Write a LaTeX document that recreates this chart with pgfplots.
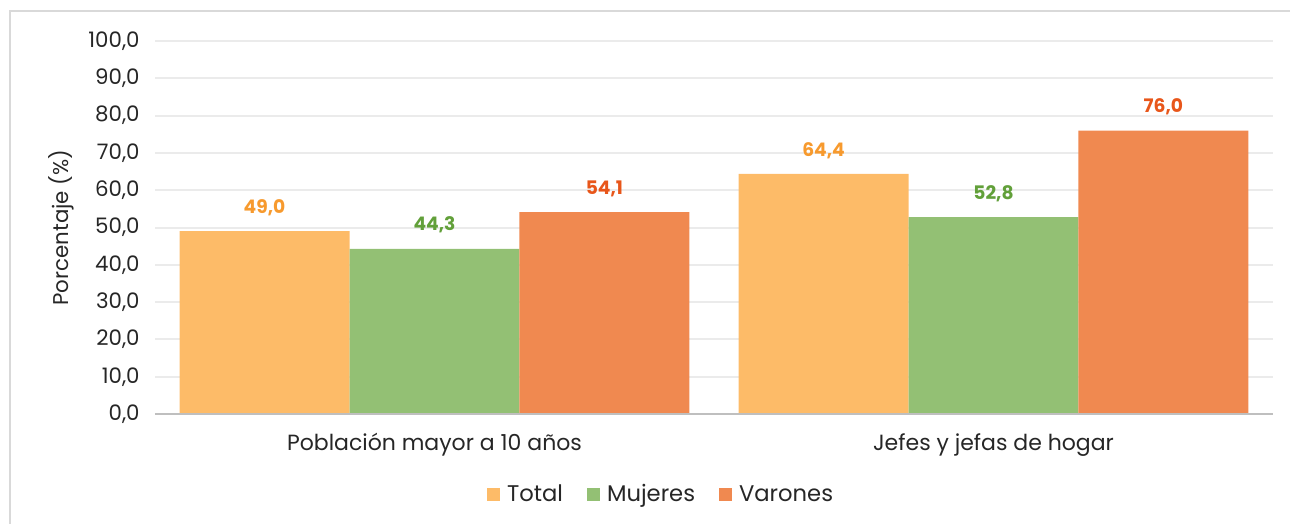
\documentclass[border=0pt]{standalone}
\usepackage{fontspec}
\setmainfont{Poppins}
\usepackage{pgfplots}
\pgfplotsset{compat=1.18}
\definecolor{cTotal}{RGB}{253,187,104}
\definecolor{cMuj}{RGB}{147,192,116}
\definecolor{cVar}{RGB}{240,137,80}
\definecolor{lTotal}{RGB}{247,154,46}
\definecolor{lMuj}{RGB}{98,160,58}
\definecolor{lVar}{RGB}{232,86,26}
\definecolor{gridc}{RGB}{235,235,235}
\definecolor{axc}{RGB}{191,191,191}
\definecolor{framec}{RGB}{217,217,217}
\begin{document}
\begin{tikzpicture}
\useasboundingbox (0pt,0pt) rectangle (967.5pt,-393pt);
\draw[framec,line width=0.9pt] (7.5pt,-393pt) -- (7.5pt,-8.25pt) -- (967.5pt,-8.25pt);
\begin{axis}[
  at={(116.25pt,-30.75pt)}, anchor=north west,
  scale only axis,
  width=838.5pt, height=279.75pt,
  xmin=-0.5, xmax=1.5, ymin=0, ymax=100,
  ybar=0pt, bar width=0.304,
  xtick={0,1}, xticklabels={Población mayor a 10 años, Jefes y jefas de hogar},
  ytick={0,10,...,100},
  yticklabel={\pgfmathprintnumber[fixed,fixed zerofill,precision=1,use comma]{\tick}},
  /pgf/number format/assume math mode=true,
  tick label style={font=\fontsize{16}{19}\selectfont, text=black!85},
  yticklabel style={xshift=-8pt},
  xticklabel style={yshift=-11pt, font=\fontsize{16.5}{19}\selectfont},
  major tick length=0pt,
  axis line style={draw=none},
  axis x line*=bottom, axis y line*=left,
  ymajorgrids, grid style={gridc, line width=1.5pt},
  ylabel={Porcentaje (\%)},
  ylabel style={font=\fontsize{16}{19}\selectfont, text=black!85, yshift=4pt},
  legend style={at={(0.453,-0.215)}, anchor=center, draw=none, legend columns=3,
    font=\fontsize{17}{20}\selectfont, text=black!85,
    /tikz/every odd column/.append style={column sep=3pt},
    /tikz/every even column/.append style={column sep=16pt}},
  legend image code/.code={\fill[#1] (0pt,-5pt) rectangle (10pt,5pt);},
  nodes near coords,
  nodes near coords style={font=\bfseries\fontsize{14}{17}\selectfont, anchor=south, yshift=8pt},
  point meta=explicit symbolic,
]
\addplot[fill=cTotal, draw=none, nodes near coords style={text=lTotal}] coordinates {(0,49.0)[49,0] (1,64.4)[64,4]};
\addplot[fill=cMuj, draw=none, nodes near coords style={text=lMuj}] coordinates {(0,44.3)[44,3] (1,52.8)[52,8]};
\addplot[fill=cVar, draw=none, nodes near coords style={text=lVar}] coordinates {(0,54.1)[54,1] (1,76.0)[76,0]};
\legend{Total, Mujeres, Varones}
\draw[axc, line width=1.5pt] (axis cs:-0.5,0) -- (axis cs:1.5,0);
\end{axis}
\end{tikzpicture}
\end{document}
